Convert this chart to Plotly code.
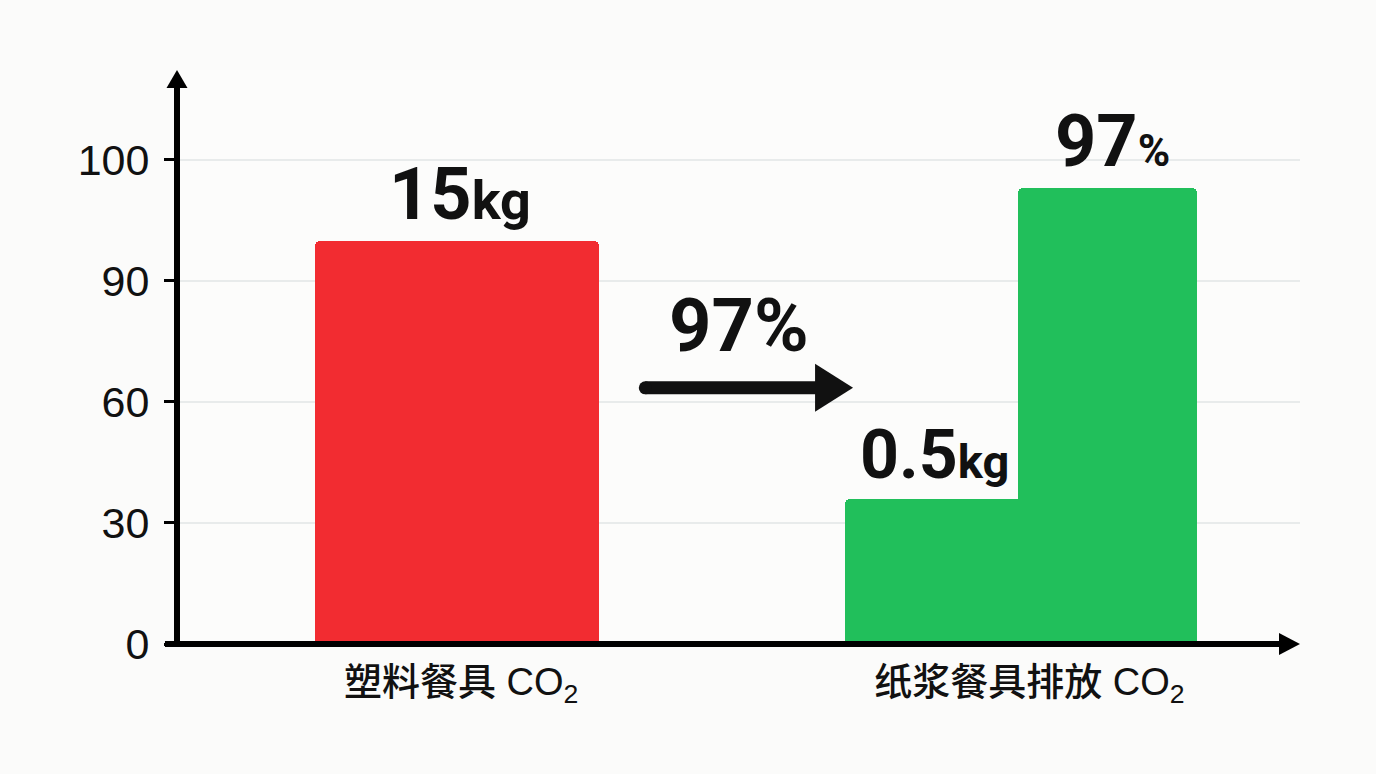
import plotly.graph_objects as go

# ---- data ----
categories = ["塑料餐具 CO<sub>2</sub>", "纸浆餐具排放 CO<sub>2</sub>"]
bar_names = ["塑料餐具", "纸浆餐具排放", "纸浆餐具减排"]
bar_values = [100, 36, 113]
bar_labels = ["15<span style='font-size:54px'>kg</span>",
              "0.5<span style='font-size:47px'>kg</span>",
              "97<span style='font-size:44px'>%</span>"]
bar_colors = ["#F22C31", "#21BF5B", "#21BF5B"]
ytick_vals = [0, 30, 60, 90, 120]
ytick_text = ["0", "30", "60", "90", "100"]
middle_label = "97%"

# ---- layout geometry (axis units) ----
bar_left = [1.229, 5.948, 7.489]
bar_right = [3.758, 7.55, 9.083]
cat_pos = [2.53, 7.59]
label_sizes = [72, 68, 72]
X_RANGE = [0, 10]
Y_RANGE = [0, 142.3]

fig = go.Figure()
for i in range(3):
    c = (bar_left[i] + bar_right[i]) / 2
    w = bar_right[i] - bar_left[i]
    fig.add_trace(go.Bar(
        x=[c], y=[bar_values[i]], width=[w], name=bar_names[i],
        marker=dict(color=bar_colors[i], line=dict(width=0), cornerradius=5),
        showlegend=False, hoverinfo="skip"))

# value labels above bars
label_x = [(bar_left[0] + bar_right[0]) / 2 + 0.03,
           (bar_left[1] + 7.489) / 2 + 0.03,
           (bar_left[2] + bar_right[2]) / 2 + 0.04]
for i in range(3):
    fig.add_annotation(x=label_x[i], y=bar_values[i], text=bar_labels[i],
                       showarrow=False, yanchor="bottom", yshift=2,
                       font=dict(family="Roboto", size=label_sizes[i], color="#111111",
                                 weight="bold"))

# middle arrow + label
fig.add_annotation(x=5.0, y=77.9, text=middle_label, showarrow=False,
                   yanchor="middle", yshift=4,
                   font=dict(family="Roboto", size=74, color="#111111", weight="bold"))
fig.add_shape(type="line", xref="x", yref="y", x0=4.17, x1=5.8, y0=63.5, y1=63.5,
              line=dict(color="#111111", width=13))
fig.add_shape(type="circle", xref="x", yref="y", xsizemode="pixel", ysizemode="pixel",
              xanchor=4.17, yanchor=63.5, x0=-6.5, x1=6.5, y0=-6.5, y1=6.5,
              fillcolor="#111111", line=dict(width=0))
fig.add_shape(type="path", xref="x", yref="y", xsizemode="pixel", ysizemode="pixel",
              xanchor=6.02, yanchor=63.5, path="M -38 24 L -38 -24 L 0 0 Z",
              fillcolor="#111111", line=dict(width=0))

# axes lines with arrows
fig.add_shape(type="line", xref="paper", yref="paper", x0=0, x1=0, y0=0, y1=0.975,
              line=dict(color="#000000", width=6))
fig.add_shape(type="path", xref="paper", yref="paper", xsizemode="pixel", ysizemode="pixel",
              xanchor=0, yanchor=1, path="M -10.5 -18 L 10.5 -18 L 0 0 Z",
              fillcolor="#000000", line=dict(width=0))
fig.add_shape(type="line", xref="paper", yref="paper", x0=-0.0107, x1=0.985, y0=0, y1=0,
              line=dict(color="#000000", width=6))
fig.add_shape(type="path", xref="paper", yref="paper", xsizemode="pixel", ysizemode="pixel",
              xanchor=1, yanchor=0, path="M -21 11 L -21 -11 L 0 0 Z",
              fillcolor="#000000", line=dict(width=0))

fig.update_layout(
    width=1376, height=774,
    margin=dict(l=177, r=76, t=70, b=130),
    paper_bgcolor="#FBFBFA", plot_bgcolor="#FCFCFB",
    barmode="overlay", bargap=0,
    xaxis=dict(range=X_RANGE, tickvals=cat_pos, ticktext=categories,
               showgrid=False, zeroline=False, showline=False, ticks="",
               ticklabelstandoff=12,
               tickfont=dict(family="Liberation Sans, Noto Sans CJK SC", size=38,
                             color="#111111", weight=500)),
    yaxis=dict(range=Y_RANGE, tickvals=ytick_vals, ticktext=ytick_text,
               showgrid=True, gridcolor="#E8EBEB", gridwidth=2,
               zeroline=False, showline=False,
               ticks="outside", ticklen=12, tickwidth=3, tickcolor="#000000",
               ticklabelstandoff=6,
               tickfont=dict(family="Liberation Sans", size=43, color="#111111")),
)

fig.write_html("out.html", config={"displayModeBar": False},
               post_script="document.body.style.margin='0';document.body.style.padding='0';")
